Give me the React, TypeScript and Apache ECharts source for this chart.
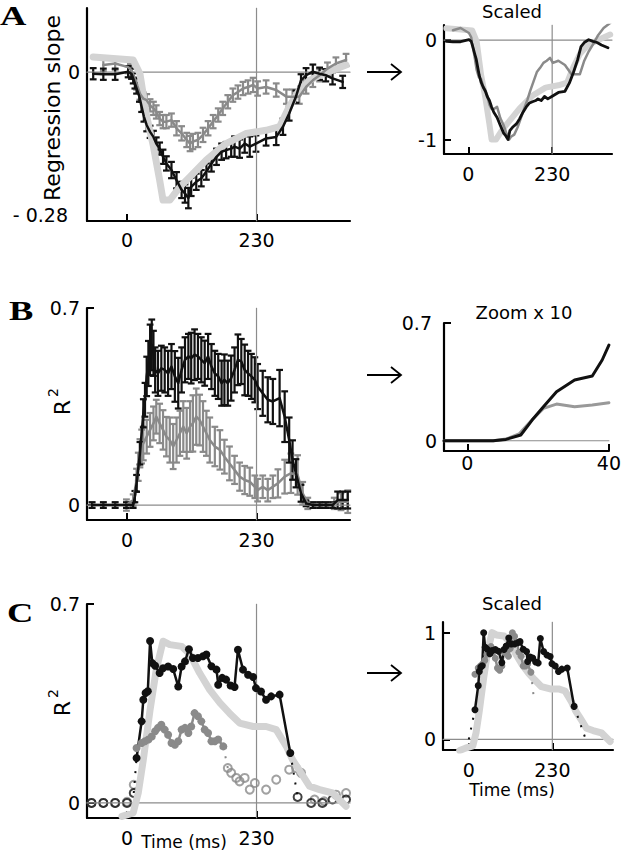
import React, { useEffect, useRef } from 'react';
import * as echarts from 'echarts';

// ---------------- Panel A (regression slope) ----------------
const aBlackTime = [-60, -42, -21, 2, 8, 11, 14, 17, 22, 26, 30, 35, 41, 47, 52, 58, 64, 70, 79, 88, 97, 103, 109, 114, 123, 132, 141, 150, 159, 168, 176, 185, 191, 200, 209, 218, 229, 247, 265, 277, 288, 300, 309, 318, 330, 342, 353, 365, 383];
const aBlack = [-0.003, -0.004, -0.004, 0.001, -0.003, -0.012, -0.022, -0.032, -0.048, -0.068, -0.087, -0.104, -0.117, -0.127, -0.140, -0.150, -0.166, -0.179, -0.192, -0.212, -0.231, -0.238, -0.247, -0.225, -0.215, -0.208, -0.195, -0.179, -0.166, -0.156, -0.153, -0.150, -0.146, -0.150, -0.140, -0.146, -0.140, -0.130, -0.127, -0.107, -0.081, -0.048, -0.016, -0.006, 0.001, -0.003, -0.006, -0.012, -0.019];
const aBlackErr = [0.011, 0.011, 0.011, 0.011, 0.010, 0.010, 0.010, 0.010, 0.010, 0.010, 0.010, 0.012, 0.012, 0.012, 0.012, 0.012, 0.014, 0.014, 0.016, 0.016, 0.016, 0.018, 0.020, 0.018, 0.016, 0.016, 0.016, 0.016, 0.016, 0.016, 0.016, 0.016, 0.020, 0.018, 0.018, 0.020, 0.016, 0.014, 0.016, 0.016, 0.014, 0.012, 0.012, 0.014, 0.014, 0.012, 0.012, 0.012, 0.012];
const aGreyTime = [-42, -21, 2, 8, 17, 23, 29, 35, 41, 47, 52, 58, 64, 70, 79, 88, 97, 106, 112, 117, 126, 135, 144, 153, 162, 170, 179, 188, 197, 206, 215, 224, 232, 247, 265, 283, 294, 306, 318, 330, 342, 356, 371, 389];
const aGrey = [0.014, 0.017, 0.010, 0.004, -0.022, -0.042, -0.052, -0.055, -0.065, -0.071, -0.078, -0.091, -0.097, -0.097, -0.094, -0.110, -0.120, -0.133, -0.140, -0.136, -0.133, -0.123, -0.110, -0.097, -0.084, -0.071, -0.058, -0.045, -0.039, -0.032, -0.029, -0.025, -0.032, -0.029, -0.035, -0.048, -0.048, -0.048, -0.029, -0.016, -0.006, 0.007, 0.017, 0.024];
const aGreyErr = [0.012, 0.012, 0.012, 0.012, 0.012, 0.012, 0.012, 0.012, 0.012, 0.013, 0.013, 0.013, 0.013, 0.013, 0.013, 0.014, 0.014, 0.014, 0.015, 0.015, 0.014, 0.014, 0.014, 0.013, 0.013, 0.013, 0.013, 0.013, 0.013, 0.013, 0.013, 0.014, 0.014, 0.013, 0.013, 0.014, 0.014, 0.014, 0.013, 0.013, 0.012, 0.012, 0.012, 0.012];
const aLightTime = [-60, 11, 23, 35, 47, 58, 64, 76, 94, 112, 141, 176, 212, 247, 271, 288, 306, 324, 342, 365, 389];
const aLight = [0.030, 0.024, -0.003, -0.087, -0.146, -0.212, -0.251, -0.251, -0.225, -0.205, -0.172, -0.140, -0.120, -0.114, -0.107, -0.068, -0.035, -0.016, -0.006, 0.004, 0.014];

// ---------------- Panel B (R^2) ----------------
const bBlackTime = [-62, -42, -21, -1, 11, 14, 17, 23, 29, 32, 35, 38, 41, 44, 47, 50, 55, 61, 67, 73, 79, 85, 91, 97, 103, 109, 114, 120, 126, 132, 138, 144, 150, 156, 162, 168, 173, 179, 185, 191, 197, 203, 209, 215, 221, 227, 232, 241, 250, 259, 271, 280, 288, 294, 300, 309, 318, 330, 342, 353, 365, 374, 383, 392];
const bBlack = [0, 0, 0, 0, 0, 0.030, 0.077, 0.184, 0.326, 0.374, 0.457, 0.503, 0.551, 0.569, 0.539, 0.480, 0.468, 0.486, 0.480, 0.468, 0.492, 0.457, 0.433, 0.480, 0.516, 0.528, 0.522, 0.534, 0.528, 0.516, 0.504, 0.528, 0.492, 0.468, 0.457, 0.433, 0.445, 0.433, 0.451, 0.480, 0.516, 0.510, 0.480, 0.468, 0.457, 0.445, 0.421, 0.397, 0.374, 0.368, 0.380, 0.314, 0.231, 0.160, 0.113, 0.042, 0.006, 0, 0, 0, 0, 0.018, 0.018, 0.018];
const bBlackErr = [0.01, 0.01, 0.01, 0.01, 0.01, 0.02, 0.03, 0.04, 0.05, 0.06, 0.07, 0.08, 0.09, 0.09, 0.08, 0.08, 0.08, 0.08, 0.08, 0.08, 0.08, 0.09, 0.09, 0.08, 0.08, 0.08, 0.09, 0.09, 0.08, 0.08, 0.08, 0.08, 0.08, 0.08, 0.08, 0.08, 0.09, 0.08, 0.08, 0.08, 0.09, 0.08, 0.09, 0.08, 0.08, 0.08, 0.08, 0.08, 0.08, 0.08, 0.10, 0.09, 0.08, 0.07, 0.05, 0.03, 0.01, 0.01, 0.01, 0.01, 0.01, 0.03, 0.03, 0.03];
const bGreyTime = [-62, -42, -21, -1, 11, 17, 20, 23, 26, 29, 35, 41, 47, 52, 58, 64, 70, 76, 82, 88, 94, 100, 106, 112, 117, 123, 129, 135, 141, 147, 156, 165, 173, 182, 191, 200, 209, 218, 227, 232, 241, 250, 259, 268, 280, 291, 303, 312, 321, 333, 345, 356, 368, 380, 392];
const bGrey = [0, 0, 0, 0, 0.018, 0.089, 0.136, 0.184, 0.208, 0.219, 0.243, 0.267, 0.290, 0.314, 0.290, 0.267, 0.243, 0.231, 0.208, 0.231, 0.255, 0.279, 0.255, 0.279, 0.290, 0.314, 0.302, 0.279, 0.255, 0.231, 0.208, 0.196, 0.172, 0.148, 0.125, 0.101, 0.089, 0.083, 0.065, 0.053, 0.065, 0.053, 0.065, 0.077, 0.101, 0.113, 0.107, 0.042, 0.006, 0, 0, 0, 0.006, 0.012, 0.012];
const bGreyErr = [0.01, 0.01, 0.01, 0.02, 0.02, 0.04, 0.05, 0.05, 0.06, 0.06, 0.06, 0.06, 0.06, 0.06, 0.07, 0.07, 0.07, 0.08, 0.08, 0.08, 0.08, 0.09, 0.09, 0.09, 0.10, 0.10, 0.09, 0.09, 0.08, 0.08, 0.07, 0.07, 0.06, 0.06, 0.05, 0.05, 0.05, 0.05, 0.04, 0.04, 0.04, 0.04, 0.04, 0.05, 0.06, 0.07, 0.07, 0.04, 0.02, 0.01, 0.01, 0.01, 0.02, 0.03, 0.04];
// Zoom x 10
const bzBlackTime = [-6.6, 7.3, 10.9, 15.1, 18.3, 21.5, 25.2, 30.3, 35.3, 38.1, 40];
const bzBlack = [0, 0, 0.008, 0.034, 0.123, 0.202, 0.291, 0.361, 0.385, 0.480, 0.569];
const bzGreyTime = [-6.6, 7.3, 10.9, 14.6, 18.3, 21.5, 25.2, 30.3, 35.3, 40];
const bzGrey = [0, 0, 0.010, 0.040, 0.125, 0.192, 0.218, 0.202, 0.212, 0.226];

// ---------------- Panel C (R^2 with significance) ----------------
const cBlackTime = [17, 26, 29, 33, 37, 41, 45, 50, 58, 64, 73, 82, 91, 97, 103, 110, 117, 126, 135, 141, 150, 159, 162, 169, 176, 184, 191, 197, 206, 215, 224, 229, 238, 247, 256, 271, 290];
const cBlack = [0.158, 0.287, 0.363, 0.387, 0.393, 0.570, 0.492, 0.483, 0.457, 0.474, 0.480, 0.471, 0.410, 0.480, 0.498, 0.541, 0.510, 0.510, 0.516, 0.522, 0.481, 0.469, 0.416, 0.440, 0.434, 0.413, 0.408, 0.539, 0.469, 0.451, 0.443, 0.404, 0.392, 0.363, 0.375, 0.381, 0.176];
const cBlackPreTime = [-63, -42, -21, 0, 12];
const cBlackPre = [0, 0, 0, 0, 0.035];
const cBlackPostTime = [303, 327, 347, 365, 389];
const cBlackPost = [0.021, 0, 0, 0.012, 0.012];
const cGreyTime = [17, 26, 32, 38, 44, 50, 55, 61, 67, 73, 79, 85, 91, 97, 103, 109, 114, 120, 126, 132, 138, 144, 150, 156, 162, 171];
const cGrey = [0.193, 0.211, 0.217, 0.223, 0.234, 0.252, 0.264, 0.275, 0.258, 0.240, 0.211, 0.205, 0.217, 0.258, 0.264, 0.246, 0.269, 0.316, 0.305, 0.287, 0.258, 0.246, 0.217, 0.217, 0.223, 0.199];
const cGreyPreTime = [-63, -42, -21, 0, 12];
const cGreyPre = [0, 0, 0, 0.004, 0.064];
const cGreyPostTime = [179, 185, 194, 200, 209, 218, 227, 247, 265, 288, 300, 309, 333, 350, 371, 389];
const cGreyPost = [0.123, 0.106, 0.088, 0.076, 0.088, 0.047, 0.070, 0.047, 0.082, 0.117, 0.123, 0.106, 0.012, 0.006, 0.029, 0.035];
const cLightTime = [-9, 11, 20, 29, 41, 52, 64, 76, 97, 112, 129, 147, 165, 182, 200, 224, 247, 265, 283, 294, 309, 324, 342, 365, 389];
const cLight = [-0.047, -0.035, 0.035, 0.152, 0.328, 0.469, 0.569, 0.557, 0.551, 0.522, 0.457, 0.398, 0.352, 0.316, 0.281, 0.269, 0.269, 0.258, 0.199, 0.152, 0.106, 0.059, 0.047, 0.035, -0.012];

// tick labels
const timeTicks = [0, 230];
const zoomTicks = [0, 40];
const slopeTicks = [-0.28, 0];
const scaledSlopeTicks = [-1, 0];
const r2Ticks = [0, 0.7];
const scaledR2Ticks = [0, 1];

// ---------------- helpers ----------------
const FONT = '"DejaVu Sans", sans-serif';
const BLACK = '#111';
const GREY = '#8a8a8a';
const LIGHT = '#d3d3d3';

const zip = (t: number[], v: number[]) => t.map((x, i) => [x, v[i]]);
const maxAbs = (v: number[]) => Math.max(...v.map((x) => Math.abs(x)));
const scaled = (v: number[], m: number) => v.map((x) => x / m);

function lineS(idx: number, data: number[][], color: string, width: number, extra: any = {}) {
  return {
    type: 'line', xAxisIndex: idx, yAxisIndex: idx, data,
    symbol: 'none', showSymbol: false, silent: true,
    lineStyle: { color, width, cap: 'round', join: 'round' },
    itemStyle: { color },
    ...extra,
  };
}
function dotLine(idx: number, data: number[][], color: string, size: number, width: number) {
  return lineS(idx, data, color, width, { symbol: 'circle', showSymbol: true, symbolSize: size });
}
function hollow(idx: number, data: number[][], color: string) {
  return {
    type: 'scatter', xAxisIndex: idx, yAxisIndex: idx, data, symbol: 'circle', symbolSize: 8, silent: true,
    itemStyle: { color: 'rgba(0,0,0,0)', borderColor: color, borderWidth: 2 },
  };
}
function dotted(idx: number, a: number[], b: number[], color: string) {
  return lineS(idx, [a, b], color, 2, { lineStyle: { color, width: 2, type: [2, 8] } });
}
function errS(idx: number, t: number[], v: number[], e: number[], color: string) {
  return {
    type: 'custom', xAxisIndex: idx, yAxisIndex: idx, silent: true,
    data: t.map((x, i) => [x, v[i], e[i]]),
    encode: { x: 0, y: 1 },
    renderItem: (_p: any, api: any) => {
      const x = api.value(0), y = api.value(1), er = api.value(2);
      const top = api.coord([x, y + er]);
      const bot = api.coord([x, y - er]);
      const st = { stroke: color, lineWidth: 2.2 };
      const c = 3.4;
      return {
        type: 'group',
        children: [
          { type: 'line', shape: { x1: top[0], y1: top[1], x2: bot[0], y2: bot[1] }, style: st },
          { type: 'line', shape: { x1: top[0] - c, y1: top[1], x2: top[0] + c, y2: top[1] }, style: st },
          { type: 'line', shape: { x1: bot[0] - c, y1: bot[1], x2: bot[0] + c, y2: bot[1] }, style: st },
        ],
      };
    },
  };
}
function refLines(idx: number, xmin: number, xmax: number, ymin: number, ymax: number, vline: boolean) {
  const out: any[] = [lineS(idx, [[xmin, 0], [xmax, 0]], '#8c8c8c', 1.2)];
  if (vline) out.push(lineS(idx, [[230, ymin], [230, ymax]], '#8c8c8c', 1.2));
  return out;
}

const grids = [
  { left: 87, top: 8, width: 263, height: 213 },
  { left: 444, top: 25, width: 168, height: 129 },
  { left: 87, top: 308, width: 263, height: 212 },
  { left: 444, top: 323, width: 168, height: 128 },
  { left: 87, top: 604, width: 263, height: 214 },
  { left: 443, top: 622, width: 170, height: 128 },
];
const xr = [[-71, 396], [-66.5, 394], [-71, 396], [-6.6, 40], [-71, 396], [-71, 397]];
const yr = [[-0.292, 0.126], [-1.145, 0.152], [-0.053, 0.7], [-0.061, 0.7], [-0.053, 0.7], [-0.1, 1.1]];
const xTicks = [timeTicks, timeTicks, timeTicks, zoomTicks, timeTicks, timeTicks];
const yTicks = [slopeTicks, scaledSlopeTicks, r2Ticks, r2Ticks, r2Ticks, scaledR2Ticks];
const xMargins = [9, 10, 10, 2, 10, 10];

const labelStyle = { fontFamily: FONT, fontSize: 19, color: '#000' };

const xAxes = grids.map((_, i) => ({
  type: 'value', gridIndex: i, min: xr[i][0], max: xr[i][1],
  axisLine: { show: true, onZero: false, lineStyle: { color: '#000', width: 2.2 } },
  splitLine: { show: false },
  axisTick: { show: true, inside: true, length: 7, customValues: xTicks[i], lineStyle: { color: '#000', width: 2 } },
  axisLabel: { show: true, customValues: xTicks[i], margin: xMargins[i], ...labelStyle },
}));
const yAxes = grids.map((_, i) => ({
  type: 'value', gridIndex: i, min: yr[i][0], max: yr[i][1],
  axisLine: { show: true, onZero: false, lineStyle: { color: '#000', width: 2.2 } },
  splitLine: { show: false },
  axisTick: { show: i !== 0, inside: true, length: 7, customValues: yTicks[i], lineStyle: { color: '#000', width: 2 } },
  axisLabel: {
    show: true, customValues: yTicks[i], margin: 7, ...labelStyle,
    formatter: (v: number) => {
      if (i === 0 && v < 0) return '{p|- 0.28}';
      if (i === 1 && v < 0) return '-1';
      if (i === 3 && v > 0) return '{q|0.7}';
      return String(v);
    },
    rich: {
      p: { ...labelStyle, padding: [0, 12, 0, 0] },
      q: { ...labelStyle, padding: [0, 5, 0, 0] },
    },
  },
}));

function buildSeries() {
  const s: any[] = [];
  // A left
  s.push(...refLines(0, xr[0][0], xr[0][1], yr[0][0], yr[0][1], true));
  s.push(lineS(0, zip(aLightTime, aLight), LIGHT, 7));
  s.push(errS(0, aGreyTime, aGrey, aGreyErr, GREY));
  s.push(lineS(0, zip(aGreyTime, aGrey), GREY, 2.5));
  s.push(errS(0, aBlackTime, aBlack, aBlackErr, BLACK));
  s.push(lineS(0, zip(aBlackTime, aBlack), BLACK, 2.5));
  // A right (scaled)
  s.push(...refLines(1, xr[1][0], xr[1][1], yr[1][0], yr[1][1], true));
  s.push(lineS(1, zip(aLightTime, scaled(aLight, maxAbs(aLight))), LIGHT, 6));
  s.push(lineS(1, zip(aGreyTime, scaled(aGrey, maxAbs(aGrey))), GREY, 2.5));
  s.push(lineS(1, zip(aBlackTime, scaled(aBlack, maxAbs(aBlack))), BLACK, 2.8));
  // B left
  s.push(...refLines(2, xr[2][0], xr[2][1], yr[2][0], yr[2][1], true));
  s.push(errS(2, bGreyTime, bGrey, bGreyErr, GREY));
  s.push(lineS(2, zip(bGreyTime, bGrey), GREY, 2.5));
  s.push(errS(2, bBlackTime, bBlack, bBlackErr, BLACK));
  s.push(lineS(2, zip(bBlackTime, bBlack), BLACK, 2.5));
  // B right
  s.push(...refLines(3, xr[3][0], xr[3][1], yr[3][0], yr[3][1], false));
  s.push(lineS(3, zip(bzGreyTime, bzGrey), '#999', 3));
  s.push(lineS(3, zip(bzBlackTime, bzBlack), BLACK, 3));
  // C left
  s.push(...refLines(4, xr[4][0], xr[4][1], yr[4][0], yr[4][1], true));
  s.push(lineS(4, zip(cLightTime, cLight), LIGHT, 7));
  s.push(hollow(4, zip(cGreyPreTime, cGreyPre), GREY));
  s.push(hollow(4, zip(cGreyPostTime, cGreyPost), GREY));
  s.push(dotted(4, [cGreyPostTime[0], cGreyPost[0]], [cGreyTime[cGreyTime.length - 1], cGrey[cGrey.length - 1]], GREY));
  s.push(dotLine(4, zip(cGreyTime, cGrey), GREY, 8, 2.5));
  s.push(hollow(4, zip(cBlackPreTime, cBlackPre), BLACK));
  s.push(hollow(4, zip(cBlackPostTime, cBlackPost), BLACK));
  s.push(dotted(4, [cBlackPreTime[cBlackPreTime.length - 1], cBlackPre[cBlackPre.length - 1]], [cBlackTime[0], cBlack[0]], BLACK));
  s.push(dotted(4, [cBlackTime[cBlackTime.length - 1], cBlack[cBlack.length - 1]], [cBlackPostTime[0], cBlackPost[0]], BLACK));
  s.push(dotLine(4, zip(cBlackTime, cBlack), BLACK, 8, 2.5));
  // C right (scaled)
  const mb = maxAbs(cBlack), mg = maxAbs(cGrey), ml = maxAbs(cLight);
  s.push(...refLines(5, xr[5][0], xr[5][1], yr[5][0], yr[5][1], true));
  s.push(lineS(5, zip([-25, ...cLightTime], scaled([-0.06, ...cLight], ml)), LIGHT, 7));
  s.push(dotted(5, [cGreyTime[cGreyTime.length - 1], cGrey[cGrey.length - 1] / mg], [cGreyPostTime[0], cGreyPost[0] / mg], GREY));
  s.push(dotLine(5, zip(cGreyTime, scaled(cGrey, mg)), GREY, 7, 2.5));
  s.push(dotted(5, [cBlackPreTime[3], cBlackPre[3] / mb], [cBlackTime[0], cBlack[0] / mb], BLACK));
  s.push(dotted(5, [cBlackTime[cBlackTime.length - 1], cBlack[cBlack.length - 1] / mb], [cBlackPostTime[1] - 5, cBlackPost[1] / mb], BLACK));
  s.push(dotLine(5, zip(cBlackTime, scaled(cBlack, mb)), BLACK, 7, 2.5));
  return s;
}

function txt(text: string, x: number, y: number, size: number, extra: any = {}) {
  return {
    type: 'text', x, y, silent: true, ...extra,
    style: { text, fontFamily: FONT, fontSize: size, fill: '#000', textAlign: 'center', textVerticalAlign: 'middle' },
  };
}
function letter(text: string, x: number, y: number) {
  return {
    type: 'text', x, y, scaleX: 1.35, silent: true,
    style: { text, fontFamily: '"Liberation Serif", "DejaVu Serif", serif', fontWeight: 'bold', fontSize: 27, fill: '#000', textAlign: 'left', textVerticalAlign: 'middle' },
  };
}
// R with superscript 2, rotated to read upward
function r2(x: number, y: number) {
  return [
    txt('R', x, y, 22, { rotation: Math.PI / 2 }),
    txt('2', x - 9.5, y - 15, 14, { rotation: Math.PI / 2 }),
  ];
}
function arrow(y: number) {
  const st = { stroke: '#000', lineWidth: 1.8, fill: 'none' };
  return [
    { type: 'line', silent: true, shape: { x1: 367, y1: y, x2: 401, y2: y }, style: st },
    { type: 'polyline', silent: true, shape: { points: [[391, y - 8], [401, y], [391, y + 8]] }, style: st },
  ];
}

const graphics: any[] = [
  letter('A', 0, 15.5),
  letter('B', 9, 311),
  letter('C', 7, 613),
  txt('Regression slope', 52, 108, 22, { rotation: Math.PI / 2 }),
  ...r2(62.5, 407.5),
  ...r2(62.5, 708.5),
  txt('Scaled', 512, 11.5, 18),
  txt('Zoom x 10', 524, 312, 18),
  txt('Scaled', 512, 603, 18),
  txt('Time (ms)', 184, 842, 17),
  txt('Time (ms)', 512, 790, 17),
  ...arrow(72),
  ...arrow(375),
  ...arrow(673),
];

export default function App() {
  const ref = useRef<HTMLDivElement>(null);
  useEffect(() => {
    document.body.style.margin = '0';
    const chart = echarts.init(ref.current as HTMLDivElement, null, { renderer: 'svg' });
    chart.setOption({
      animation: false,
      backgroundColor: '#fff',
      grid: grids,
      xAxis: xAxes,
      yAxis: yAxes,
      series: buildSeries(),
      graphic: { elements: graphics },
    });
    return () => chart.dispose();
  }, []);
  return <div ref={ref} style={{ position: 'absolute', left: 0, top: 0, width: 624, height: 853 }} />;
}
